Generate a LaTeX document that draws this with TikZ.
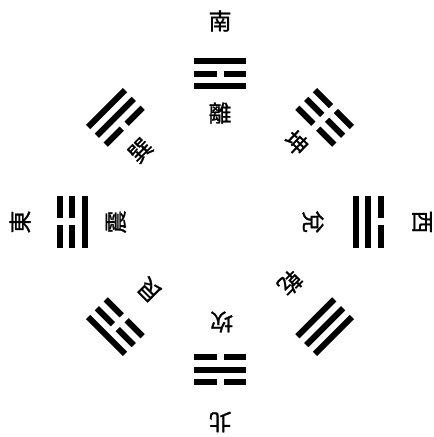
\documentclass[tikz,border=0pt]{standalone}
\usepackage{fontspec}
\newfontfamily\cjk[FakeBold=1]{Noto Sans CJK TC}
\begin{document}
\begin{tikzpicture}[x=1pt,y=1pt,line cap=butt,
 font=\fontsize{23}{27}\selectfont\cjk,
 yao/.style={line width=6pt},
 guaname/.style={inner sep=1pt}]
\useasboundingbox (0,0) rectangle (434,437);
\coordinate (O) at (220,215);
% T01-T08: trigrams, angle / lines from inside out (1 solid, 0 broken).
\foreach \a/\p/\q/\r in {90/1/0/1,45/0/0/0,0/1/1/0,-45/1/1/1,
 -90/0/1/0,-135/0/0/1,180/1/0/0,135/0/1/1}{
 \begin{scope}[shift={(O)},rotate=\a-90]
  \foreach \s/\k in {\p/-1,\q/0,\r/1}{
   \ifnum\s=1
    \draw[yao] (-26,148+12.5*\k)--(26,148+12.5*\k);
   \else
    \draw[yao] (-26,148+12.5*\k)--(-3.5,148+12.5*\k);
    \draw[yao] (3.5,148+12.5*\k)--(26,148+12.5*\k);
   \fi}
 \end{scope}}
% N01: names of the trigrams, top of each glyph turned outward.
\node[guaname] (li) at ([shift={(90:109)}]O) {離};
\node[guaname,rotate=-44] (kun) at ([shift={(46:110)}]O) {坤};
\node[guaname,rotate=-90] (dui) at ([shift={(0:93)}]O) {兌};
\node[guaname,rotate=-135] (qian) at ([shift={(-41:93)}]O) {乾};
\node[guaname,rotate=180] (kan) at ([shift={(-89:100)}]O) {坎};
\node[guaname,rotate=135] (gen) at ([shift={(-136:98)}]O) {艮};
\node[guaname,rotate=90] (zhen) at ([shift={(180:104)}]O) {震};
\node[guaname,rotate=45] (xun) at ([shift={(138:107)}]O) {巽};
% N02: the four quarters.
\node[guaname] (nan) at ([shift={(90:201)}]O) {南};
\node[guaname,rotate=-90] (xi) at ([shift={(0:202)}]O) {西};
\node[guaname,rotate=180] (bei) at ([shift={(-90:200)}]O) {北};
\node[guaname,rotate=90] (dong) at ([shift={(180:200)}]O) {東};
\end{tikzpicture}
\end{document}
